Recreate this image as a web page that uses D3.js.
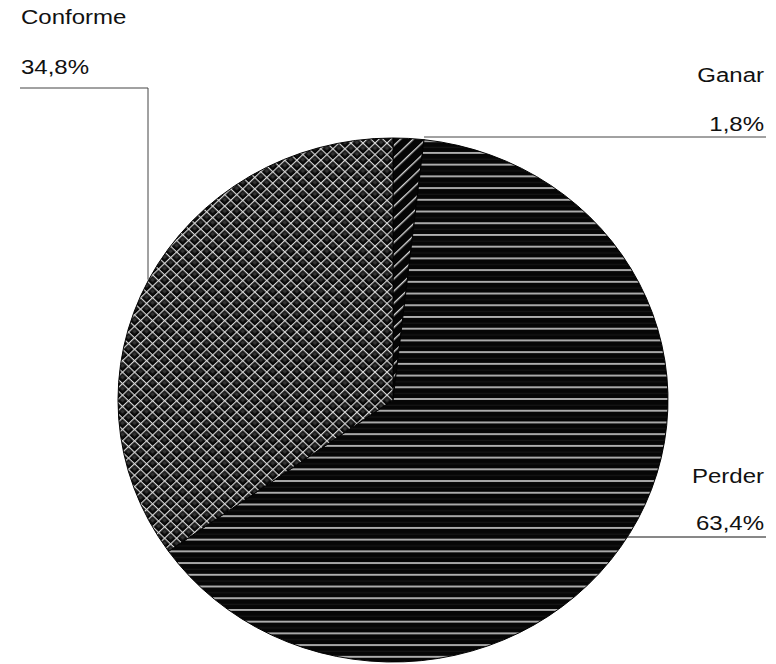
<!DOCTYPE html>
<html><head><meta charset="utf-8">
<script src="https://cdn.jsdelivr.net/npm/d3@7"></script>
<style>body{margin:0;background:#fff}svg{display:block}text{font-family:"Liberation Sans",Arial,sans-serif;}</style>
</head><body>
<svg id="c" width="776" height="664"></svg>
<script>
const categories = ["Ganar", "Perder", "Conforme"];
const values = [1.8, 63.4, 34.8];
const labels = ["1,8%", "63,4%", "34,8%"];

const svg = d3.select("#c");
const cx = 393, cy = 400, rx = 275, ry = 262;

const defs = svg.append("defs");
// Ganar: diagonal lines
const pG = defs.append("pattern").attr("id","pGanar").attr("patternUnits","userSpaceOnUse")
  .attr("width",9).attr("height",9).attr("patternTransform","rotate(45)");
pG.append("rect").attr("width",9).attr("height",9).attr("fill","#050505");
pG.append("rect").attr("x",0).attr("y",0).attr("width",1.4).attr("height",9).attr("fill","#d8d8d8");
// Perder: horizontal lines
const pP = defs.append("pattern").attr("id","pPerder").attr("patternUnits","userSpaceOnUse")
  .attr("width",12).attr("height",12.3);
pP.append("rect").attr("width",12).attr("height",12.3).attr("fill","#060606");
pP.append("rect").attr("x",0).attr("y",5).attr("width",12).attr("height",0.6).attr("fill","#262626");
pP.append("rect").attr("x",0).attr("y",10.5).attr("width",12).attr("height",1.5).attr("fill","#e6e6e6");
// Conforme: diagonal cross-hatch
const pC = defs.append("pattern").attr("id","pConforme").attr("patternUnits","userSpaceOnUse")
  .attr("width",8.5).attr("height",8.5).attr("patternTransform","rotate(45)");
pC.append("rect").attr("width",8.5).attr("height",8.5).attr("fill","#080808");
pC.append("rect").attr("x",2.5).attr("y",2.5).attr("width",3.5).attr("height",3.5).attr("fill","#333");
pC.append("rect").attr("x",0).attr("y",0).attr("width",1.2).attr("height",8.5).attr("fill","#d8d8d8");
pC.append("rect").attr("x",0).attr("y",0).attr("width",8.5).attr("height",1.2).attr("fill","#d8d8d8");

const fills = {"Ganar":"url(#pGanar)","Perder":"url(#pPerder)","Conforme":"url(#pConforme)"};

const data = categories.map((c,i)=>({cat:c, value:values[i], label:labels[i]}));
const pie = d3.pie().sort(null).value(d=>d.value).startAngle(0).endAngle(2*Math.PI);
const arcs = pie(data);
const arc = d3.arc().innerRadius(0).outerRadius(rx);

const g = svg.append("g").attr("transform",`translate(${cx},${cy}) scale(1,${ry/rx})`);
g.selectAll("path").data(arcs).join("path")
  .attr("d",arc)
  .attr("fill",d=>fills[d.data.cat])
  .attr("stroke","#000").attr("stroke-width",1);

function edgeAt(ang){
  return [cx + rx*Math.sin(ang), cy - ry*Math.cos(ang)];
}
function midEdge(a){ return edgeAt((a.startAngle+a.endAngle)/2); }

const fs = 20;
function addText(txt, x, y, anchor){
  const t = svg.append("text").attr("x",x).attr("y",y).attr("font-size",fs)
    .attr("text-anchor",anchor).attr("fill","#111").text(txt);
  const len = t.node().getComputedTextLength();
  t.attr("textLength", len*1.2).attr("lengthAdjust","spacingAndGlyphs");
  return t;
}

const lineColor = "#444";
// Ganar (right, top)
const aG = arcs[0], gE = edgeAt(aG.endAngle);
addText(aG.data.cat, 764, 82, "end");
addText(aG.data.label, 764, 131, "end");
svg.append("path").attr("d",`M${gE[0]},137 H766`).attr("stroke",lineColor).attr("fill","none").attr("stroke-width",1);

// Perder (right, bottom)
const aP = arcs[1], pE = midEdge(aP);
addText(aP.data.cat, 764, 483, "end");
addText(aP.data.label, 764, 530, "end");
svg.append("path").attr("d",`M${pE[0]-3},537 H766`).attr("stroke","#111").attr("fill","none").attr("stroke-width",1);

// Conforme (left, top)
const aC = arcs[2], cE = midEdge(aC);
addText(aC.data.cat, 21, 24, "start");
addText(aC.data.label, 21, 74, "start");
svg.append("path").attr("d",`M20,88 H148 V${cE[1]}`).attr("stroke",lineColor).attr("fill","none").attr("stroke-width",1);
</script>
</body></html>
